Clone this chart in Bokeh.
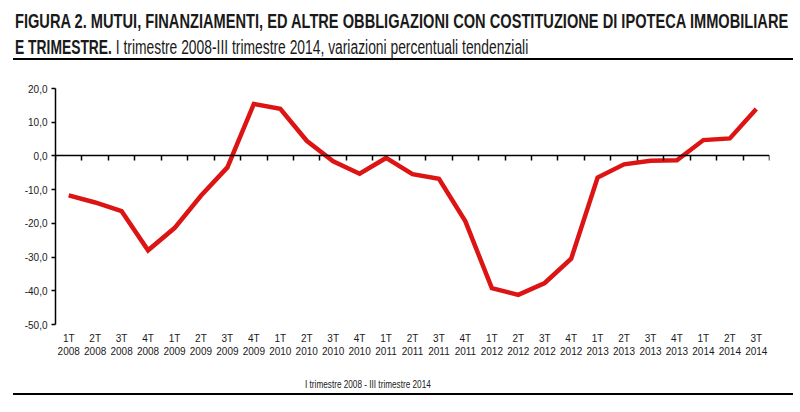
from bokeh.plotting import figure
from bokeh.models import Range1d, FixedTicker, LinearAxis, Div
from bokeh.layouts import column
from bokeh.embed import file_html
from bokeh.resources import INLINE

categories = [
    "1T\n2008", "2T\n2008", "3T\n2008", "4T\n2008",
    "1T\n2009", "2T\n2009", "3T\n2009", "4T\n2009",
    "1T\n2010", "2T\n2010", "3T\n2010", "4T\n2010",
    "1T\n2011", "2T\n2011", "3T\n2011", "4T\n2011",
    "1T\n2012", "2T\n2012", "3T\n2012", "4T\n2012",
    "1T\n2013", "2T\n2013", "3T\n2013", "4T\n2013",
    "1T\n2014", "2T\n2014", "3T\n2014",
]
values = [
    -11.7, -13.8, -16.4, -28.0,
    -21.4, -11.8, -3.4, 15.4,
    14.0, 4.5, -1.6, -5.3,
    -0.6, -5.4, -6.8, -19.4,
    -39.2, -41.2, -37.7, -30.5,
    -6.4, -2.5, -1.4, -1.3,
    4.7, 5.2, 13.9,
]
y_ticks = [-50, -40, -30, -20, -10, 0, 10, 20]
y_tick_labels = ["-50,0", "-40,0", "-30,0", "-20,0", "-10,0", "0,0", "10,0", "20,0"]

title_line1 = "FIGURA 2. MUTUI, FINANZIAMENTI, ED ALTRE OBBLIGAZIONI CON COSTITUZIONE DI IPOTECA IMMOBILIARE"
title_line2_bold = "E TRIMESTRE."
title_line2_normal = "I trimestre 2008-III trimestre 2014, variazioni percentuali tendenziali"
x_axis_title = "I trimestre 2008 - III trimestre 2014"

FONT = "Liberation Sans"
TXT = "#1a1a1a"

n = len(categories)
xs = list(range(n))

# ---------- title block ----------
base = "transform-origin:0 0;white-space:nowrap;position:absolute;"
top_html = (
    f"<div style=\"position:relative;width:784px;height:62px;font-family:'{FONT}';color:{TXT};\">"
    f"<div style=\"{base}transform:scaleX(0.75);left:15px;top:11.5px;font-size:19.5px;line-height:19.5px;font-weight:bold;\">{title_line1}</div>"
    f"<div style=\"{base}transform:scaleX(0.71);left:15px;top:37.5px;font-size:19.5px;line-height:19.5px;\">"
    f"<b>{title_line2_bold}</b> {title_line2_normal}</div>"
    f"<div style=\"position:absolute;left:13px;top:58px;width:780px;height:2px;background:#000;\"></div>"
    f"</div>"
)
div_top = Div(text=top_html, width=784, height=62, margin=0)

# ---------- chart ----------
p = figure(width=784, height=308, output_backend="svg", toolbar_location=None,
           x_range=Range1d(-0.5, n - 0.5), y_range=Range1d(-50, 20),
           min_border_left=55, min_border_right=15, min_border_top=26, min_border_bottom=46)
p.outline_line_color = None
p.xgrid.visible = False
p.ygrid.visible = False

p.yaxis.ticker = FixedTicker(ticks=y_ticks)
p.yaxis.major_label_overrides = {t: s for t, s in zip(y_ticks, y_tick_labels)}
p.yaxis.major_tick_out = 4
p.yaxis.major_tick_in = 0
p.yaxis.minor_tick_line_color = None
p.yaxis.axis_line_width = 1.5
p.yaxis.major_tick_line_width = 1.5
p.yaxis.major_label_text_font = FONT
p.yaxis.major_label_text_font_size = "10px"
p.yaxis.major_label_text_color = TXT
p.yaxis.major_label_standoff = 4

p.xaxis.ticker = FixedTicker(ticks=xs)
p.xaxis.major_label_overrides = {i: c for i, c in zip(xs, categories)}
p.xaxis.axis_line_color = None
p.xaxis.major_tick_line_color = None
p.xaxis.major_tick_out = 0
p.xaxis.major_tick_in = 0
p.xaxis.minor_tick_line_color = None
p.xaxis.major_label_text_font = FONT
p.xaxis.major_label_text_font_size = "10px"
p.xaxis.major_label_text_color = TXT
p.xaxis.major_label_standoff = 8

zero_axis = LinearAxis(fixed_location=0,
                       ticker=FixedTicker(ticks=[i - 0.5 for i in range(n + 1)]),
                       major_label_text_alpha=0, major_label_text_font_size="1px",
                       major_label_standoff=0,
                       major_tick_out=5, major_tick_in=0,
                       minor_tick_line_color=None,
                       axis_line_width=1.5, major_tick_line_width=1.5)
p.add_layout(zero_axis, "below")

p.line(xs, values, line_color="#dc1414", line_width=4.5, line_join="miter")

# ---------- bottom caption + rule ----------
bottom_html = (
    f"<div style=\"position:relative;width:784px;height:26px;font-family:'{FONT}';color:{TXT};\">"
    f"<div style=\"position:absolute;left:305px;top:9.5px;font-size:10px;line-height:10px;"
    f"white-space:nowrap;transform:scaleX(0.82);transform-origin:0 0;\">{x_axis_title}</div>"
    f"<div style=\"position:absolute;left:13px;top:23px;width:780px;height:1.5px;background:#000;\"></div>"
    f"</div>"
)
div_bottom = Div(text=bottom_html, width=784, height=26, margin=0)

layout = column(div_top, p, div_bottom, spacing=0)
open("out.html", "w").write(file_html(layout, INLINE))
